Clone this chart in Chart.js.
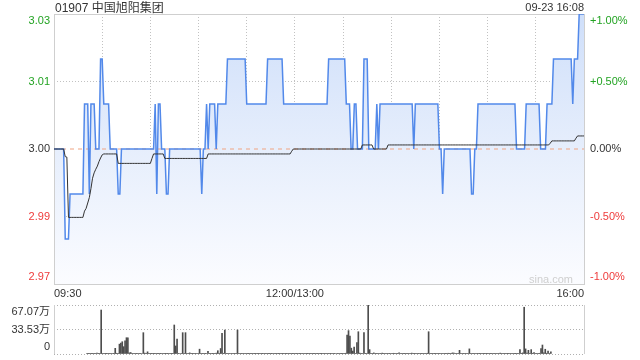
<!DOCTYPE html>
<html>
<head>
<meta charset="utf-8">
<script src="https://cdn.jsdelivr.net/npm/chart.js@4.4.0/dist/chart.umd.min.js"></script>
<style>
  body { margin: 0; width: 640px; height: 360px; background: #fff; position: relative; overflow: hidden;
         font-family: "Liberation Sans", "Noto Sans CJK SC", sans-serif; }
  #title { position: absolute; left: 55px; top: 0; font-size: 12px; line-height: 16px; color: #333; }
  #stamp { position: absolute; right: 56px; top: 0; font-size: 11px; line-height: 15px; color: #333; }
  #wm { position: absolute; right: 67px; top: 273px; font-size: 11px; line-height: 13px; color: #cfcfcf; }
  #priceCanvas { position: absolute; left: 0; top: 0; }
  #volCanvas { position: absolute; left: 0; top: 300px; }
</style>
</head>
<body>
<canvas id="priceCanvas" width="640" height="300"></canvas>
<canvas id="volCanvas" width="640" height="60"></canvas>
<div id="title">01907 中国旭阳集团</div>
<div id="stamp">09-23 16:08</div>
<div id="wm">sina.com</div>
<script>
// minute-by-minute data, 09:30 -> 16:00 (lunch break collapsed), 331 points
const prevClose = 3.00;

const price = [
  3.00,3.00,3.00,3.00,3.00,3.00,3.00,2.98,2.98,2.98, // 0
  2.99,2.99,2.99,2.99,2.99,2.99,2.99,2.99,2.99,3.01,
  3.01,3.01,2.99,3.01,3.01,3.01,3.00,3.00,3.00,3.02,
  3.02,3.01,3.01,3.01,3.01,3.00,3.00,3.00,3.00,3.00,
  2.99,2.99,3.00,3.00,3.00,3.00,3.00,3.00,3.00,3.00,
  3.00,3.00,3.00,3.00,3.00,3.00,3.00,3.00,3.00,3.00, // 50
  3.00,3.00,3.00,3.01,2.99,3.01,3.01,3.00,3.00,3.00,
  2.99,2.99,3.00,3.00,3.00,3.00,3.00,3.00,3.00,3.00,
  3.00,3.00,3.00,3.00,3.00,3.00,3.00,3.00,3.00,3.00,
  3.00,3.00,2.99,3.00,3.00,3.01,3.00,3.01,3.01,3.01,
  3.01,3.00,3.01,3.01,3.01,3.01,3.01,3.01,3.02,3.02, // 100
  3.02,3.02,3.02,3.02,3.02,3.02,3.02,3.02,3.02,3.02,
  3.01,3.01,3.01,3.01,3.01,3.01,3.01,3.01,3.01,3.01,
  3.01,3.01,3.01,3.02,3.02,3.02,3.02,3.02,3.02,3.02,
  3.02,3.02,3.02,3.01,3.01,3.01,3.01,3.01,3.01,3.01,
  3.01,3.01,3.01,3.01,3.01,3.01,3.01,3.01,3.01,3.01, // 150
  3.01,3.01,3.01,3.01,3.01,3.01,3.01,3.01,3.01,3.01,
  3.01,3.02,3.02,3.02,3.02,3.02,3.02,3.02,3.02,3.02,
  3.02,3.02,3.01,3.01,3.01,3.00,3.00,3.01,3.01,3.00,
  3.00,3.00,3.00,3.02,3.02,3.02,3.00,3.00,3.00,3.00,
  3.00,3.01,3.00,3.01,3.01,3.01,3.01,3.01,3.01,3.01, // 200
  3.01,3.01,3.01,3.01,3.01,3.01,3.01,3.01,3.01,3.01,
  3.01,3.01,3.01,3.01,3.00,3.01,3.01,3.01,3.01,3.01,
  3.01,3.01,3.01,3.01,3.01,3.01,3.01,3.01,3.01,3.01,
  3.00,3.00,2.99,3.00,3.00,3.00,3.00,3.00,3.00,3.00,
  3.00,3.00,3.00,3.00,3.00,3.00,3.00,3.00,3.00,3.00, // 250
  2.99,2.99,3.00,3.00,3.01,3.01,3.01,3.01,3.01,3.01,
  3.01,3.01,3.01,3.01,3.01,3.01,3.01,3.01,3.01,3.01,
  3.01,3.01,3.01,3.01,3.01,3.01,3.01,3.01,3.00,3.00,
  3.00,3.00,3.00,3.00,3.01,3.01,3.01,3.01,3.01,3.01,
  3.01,3.01,3.01,3.00,3.00,3.00,3.00,3.01,3.01,3.01, // 300
  3.01,3.02,3.02,3.02,3.02,3.02,3.02,3.02,3.02,3.02,
  3.02,3.02,3.02,3.01,3.02,3.02,3.02,3.03,3.03,3.03,
  3.03
];

const avgPrice = [
  3.0000,3.0000,3.0000,3.0000,3.0000,3.0000,3.0000,2.9983,2.9982,2.9848, // 0
  2.9848,2.9848,2.9848,2.9848,2.9848,2.9848,2.9848,2.9848,2.9848,2.9862,
  2.9868,2.9880,2.9892,2.9912,2.9935,2.9947,2.9955,2.9962,2.9972,2.9980,
  2.9987,2.9989,2.9989,2.9989,2.9989,2.9989,2.9989,2.9989,2.9989,2.9989,
  2.9968,2.9968,2.9968,2.9968,2.9968,2.9968,2.9968,2.9968,2.9968,2.9968,
  2.9968,2.9968,2.9968,2.9968,2.9968,2.9968,2.9968,2.9968,2.9968,2.9968, // 50
  2.9968,2.9979,2.9989,2.9989,2.9989,2.9989,2.9989,2.9989,2.9989,2.9979,
  2.9979,2.9979,2.9979,2.9979,2.9979,2.9979,2.9979,2.9979,2.9979,2.9979,
  2.9979,2.9979,2.9979,2.9979,2.9979,2.9979,2.9979,2.9979,2.9979,2.9979,
  2.9979,2.9979,2.9979,2.9979,2.9979,2.9979,2.9989,2.9989,2.9989,2.9989,
  2.9989,2.9989,2.9989,2.9989,2.9989,2.9989,2.9989,2.9989,2.9989,2.9989, // 100
  2.9989,2.9989,2.9989,2.9989,2.9989,2.9989,2.9989,2.9989,2.9989,2.9989,
  2.9989,2.9989,2.9989,2.9989,2.9989,2.9989,2.9989,2.9989,2.9989,2.9989,
  2.9989,2.9989,2.9989,2.9989,2.9989,2.9989,2.9989,2.9989,2.9989,2.9989,
  2.9989,2.9989,2.9989,2.9989,2.9989,2.9989,2.9989,2.9989,2.9995,3.0000,
  3.0000,3.0000,3.0000,3.0000,3.0000,3.0000,3.0000,3.0000,3.0000,3.0000, // 150
  3.0000,3.0000,3.0000,3.0000,3.0000,3.0000,3.0000,3.0000,3.0000,3.0000,
  3.0000,3.0000,3.0000,3.0000,3.0000,3.0000,3.0000,3.0000,3.0000,3.0000,
  3.0000,3.0000,3.0000,3.0000,3.0000,3.0000,3.0000,3.0000,3.0000,3.0000,
  3.0000,3.0000,3.0009,3.0009,3.0009,3.0009,3.0009,3.0009,3.0009,3.0000,
  3.0000,3.0000,3.0000,3.0000,3.0000,3.0000,3.0000,3.0000,3.0009,3.0009, // 200
  3.0009,3.0009,3.0009,3.0009,3.0009,3.0009,3.0009,3.0009,3.0009,3.0009,
  3.0009,3.0009,3.0009,3.0009,3.0009,3.0009,3.0009,3.0009,3.0009,3.0009,
  3.0009,3.0009,3.0009,3.0009,3.0009,3.0009,3.0009,3.0009,3.0009,3.0009,
  3.0009,3.0009,3.0009,3.0009,3.0009,3.0009,3.0009,3.0009,3.0009,3.0009,
  3.0009,3.0009,3.0009,3.0009,3.0009,3.0009,3.0009,3.0009,3.0009,3.0009, // 250
  3.0009,3.0009,3.0009,3.0009,3.0009,3.0009,3.0009,3.0009,3.0009,3.0009,
  3.0009,3.0009,3.0009,3.0009,3.0009,3.0009,3.0009,3.0009,3.0009,3.0009,
  3.0009,3.0009,3.0009,3.0009,3.0009,3.0009,3.0009,3.0009,3.0009,3.0009,
  3.0009,3.0009,3.0009,3.0009,3.0009,3.0009,3.0009,3.0009,3.0009,3.0009,
  3.0009,3.0009,3.0009,3.0009,3.0009,3.0009,3.0009,3.0009,3.0009,3.0013, // 300
  3.0018,3.0018,3.0018,3.0018,3.0018,3.0018,3.0018,3.0018,3.0018,3.0018,
  3.0018,3.0018,3.0018,3.0018,3.0018,3.0024,3.0029,3.0029,3.0029,3.0029,
  3.0029
];

// volume in 万 shares
const volume = [
  0.5,0.3,0.6,0.4,0.5,0.3,0.8,1.2,0.9,0.6, // 0
  60.2,0.8,0.5,0.4,0.3,0.6,0.5,0.4,0.7,0.9,
  7.8,1.0,0.8,13.5,15.0,16.8,10.0,18.0,22.3,22.3,
  1.5,2.0,0.8,0.6,0.5,0.4,0.6,0.3,0.5,0.7,
  29.2,1.2,0.8,3.0,0.6,0.5,0.4,0.5,0.3,0.6,
  0.4,0.5,0.3,0.6,0.4,0.5,0.3,0.4,0.6,0.5, // 50
  0.4,0.8,39.7,11.0,20.5,0.9,0.7,0.6,29.2,1.0,
  29.2,0.8,0.6,1.5,0.5,0.4,0.6,0.5,0.7,0.6,
  6.6,0.8,0.5,0.6,0.4,0.7,3.5,0.5,0.6,0.4,
  0.5,0.6,1.2,4.5,0.8,7.5,28.3,1.0,32.8,0.8,
  0.6,0.5,0.7,0.4,0.6,0.5,0.8,32.8,0.9,0.6, // 100
  0.5,0.4,0.6,0.3,0.5,0.4,0.6,0.5,0.3,0.4,
  0.5,0.6,0.4,0.3,0.5,0.4,0.6,0.5,0.4,0.3,
  0.5,0.4,0.6,0.8,0.5,0.4,0.3,0.5,0.6,0.4,
  0.3,0.5,0.4,0.6,0.5,0.3,0.4,0.5,0.6,0.4,
  0.3,0.4,0.5,0.3,0.6,0.4,0.5,0.3,0.4,0.5, // 150
  0.4,0.3,0.5,0.6,0.4,0.5,0.3,0.4,0.6,0.5,
  0.6,0.8,0.5,0.4,0.6,0.5,0.4,0.7,0.5,0.6,
  0.5,0.4,0.8,0.6,1.0,26.0,32.0,24.6,8.0,4.0,
  9.6,0.8,15.5,30.5,1.2,0.8,0.6,29.2,0.9,0.7,
  67.0,6.0,1.0,0.8,1.5,0.6,0.5,0.8,0.6,0.5, // 200
  1.2,0.5,0.6,0.8,0.5,0.4,0.7,0.6,1.0,0.5,
  0.6,0.5,1.5,0.6,0.8,0.5,0.4,0.6,0.5,0.8,
  0.6,1.2,0.5,0.4,0.6,0.8,0.5,0.6,0.4,0.5,
  0.8,0.6,1.0,30.5,0.8,0.5,0.6,0.4,0.5,0.6,
  0.5,0.4,0.6,0.8,0.5,0.4,0.6,1.0,0.5,0.8, // 250
  1.5,1.2,0.6,0.8,1.0,5.0,0.8,0.6,0.5,0.4,
  0.6,0.5,7.0,0.8,0.6,0.5,0.4,0.6,0.5,0.4,
  0.5,0.6,0.4,0.5,0.3,0.5,0.6,0.4,0.8,0.6,
  0.5,0.4,0.6,0.5,1.2,0.6,0.4,0.5,0.6,0.4,
  0.5,0.6,0.8,0.6,0.5,0.4,0.6,0.8,6.0,1.0, // 300
  1.5,64.0,7.0,1.2,5.0,0.8,6.0,1.0,2.0,0.8,
  0.6,0.8,1.0,7.5,12.3,1.5,6.5,1.0,4.0,0.8,
  3.0
];

const xTickMinutes = [0, 30, 60, 90, 120, 150, 180, 210, 240, 270, 300, 330];
const xTickLabels = ["09:30", "", "", "", "", "12:00/13:00", "", "", "", "", "", "16:00"];

const priceTicks = [2.97, 2.985, 3.00, 3.015, 3.03];
// edge labels are two-line arrays so they sit inside the frame
const priceTickLabels = [["2.97", ""], "2.99", "3.00", "3.01", ["", "3.03"]];
const pctTickLabels = [["-1.00%", ""], "-0.50%", "0.00%", "+0.50%", ["", "+1.00%"]];

const volTicks = [0, 33.53, 67.07];
const volTickLabels = [["0", ""], "33.53万", ["", "67.07万"]];

const minutes = price.map((_, i) => i);

Chart.defaults.font.family = '"Liberation Sans", "Noto Sans CJK SC", sans-serif';
Chart.defaults.font.size = 11;

const GREEN = "#22a322";
const RED = "#ee3b3b";
const DOT = "#c2c2c2";
const VOLDOT = "#b0b0b0";
const FRAME = "#cfcfcf";

function tickColor(v) {
  if (Math.abs(v - prevClose) < 1e-6) return "#333";
  return v > prevClose ? GREEN : RED;
}

// fixed axis size, no overflow padding from the edge labels
function fixSize(w, h) {
  return (s) => {
    if (w != null) s.width = w;
    if (h != null) s.height = h;
    s.paddingTop = 0;
    s.paddingBottom = 0;
    s.paddingLeft = 0;
    s.paddingRight = 0;
  };
}

const frameAll = {
  id: "frameAll",
  beforeDatasetsDraw(chart) {
    const { ctx, chartArea: a } = chart;
    ctx.save();
    ctx.strokeStyle = FRAME;
    ctx.lineWidth = 1;
    ctx.strokeRect(a.left + 0.5, a.top + 0.5, a.right - a.left, a.bottom - a.top);
    ctx.restore();
  },
};

const frameSides = {
  id: "frameSides",
  beforeDatasetsDraw(chart) {
    const { ctx, chartArea: a } = chart;
    ctx.save();
    ctx.strokeStyle = FRAME;
    ctx.lineWidth = 1;
    ctx.beginPath();
    ctx.moveTo(a.left + 0.5, a.top);
    ctx.lineTo(a.left + 0.5, a.bottom);
    ctx.moveTo(a.right + 0.5, a.top);
    ctx.lineTo(a.right + 0.5, a.bottom);
    ctx.stroke();
    ctx.restore();
  },
};

new Chart(document.getElementById("priceCanvas"), {
  type: "line",
  data: {
    labels: minutes,
    datasets: [
      {
        label: "avg",
        data: avgPrice,
        borderColor: "#333",
        borderWidth: 1,
        pointRadius: 0,
        fill: false,
        order: 0,
      },
      {
        label: "price",
        data: price,
        borderColor: "#5289ea",
        borderWidth: 1.5,
        pointRadius: 0,
        fill: "start",
        backgroundColor: (c) => {
          const a = c.chart.chartArea;
          if (!a) return "rgba(0,0,0,0)";
          const g = c.chart.ctx.createLinearGradient(0, a.top, 0, a.bottom);
          g.addColorStop(0, "#cfdffa");
          g.addColorStop(0.5, "#e6eefc");
          g.addColorStop(1, "#fbfcff");
          return g;
        },
        order: 1,
      },
      {
        label: "prev close",
        data: [
          { x: 0, y: prevClose },
          { x: 330, y: prevClose },
        ],
        borderColor: "#f0a482",
        borderWidth: 1,
        borderDash: [4, 4],
        pointRadius: 0,
        fill: false,
        order: 2,
      },
    ],
  },
  options: {
    responsive: false,
    animation: false,
    layout: { padding: { top: 14, left: 0, right: 0, bottom: 0 } },
    plugins: {
      legend: { display: false },
      tooltip: { enabled: false },
      filler: { drawTime: "beforeDatasetsDraw" },
    },
    scales: {
      x: {
        type: "linear",
        min: 0,
        max: 330,
        afterBuildTicks: (s) => {
          s.ticks = xTickMinutes.map((v) => ({ value: v }));
        },
        afterFit: fixSize(null, 16),
        ticks: {
          autoSkip: false,
          maxRotation: 0,
          align: "inner",
          padding: 3,
          color: "#333",
          callback: (v) => xTickLabels[xTickMinutes.indexOf(v)],
        },
        grid: {
          drawTicks: false,
          color: (c) => (c.tick && (c.tick.value === 0 || c.tick.value === 330) ? "rgba(0,0,0,0)" : DOT),
        },
        border: { display: false, dash: [1, 2] },
      },
      y: {
        position: "left",
        min: 2.97,
        max: 3.03,
        afterBuildTicks: (s) => {
          s.ticks = priceTicks.map((v) => ({ value: v }));
        },
        afterFit: fixSize(54, null),
        ticks: {
          autoSkip: false,
          padding: 4,
          color: (c) => tickColor(c.tick.value),
          callback: (v, i) => priceTickLabels[i],
        },
        grid: {
          drawTicks: false,
          color: (c) => (c.tick && (c.tick.value === 2.985 || c.tick.value === 3.015) ? DOT : "rgba(0,0,0,0)"),
        },
        border: { display: false, dash: [1, 2] },
      },
      pct: {
        position: "right",
        min: 2.97,
        max: 3.03,
        afterBuildTicks: (s) => {
          s.ticks = priceTicks.map((v) => ({ value: v }));
        },
        afterFit: fixSize(56, null),
        ticks: {
          autoSkip: false,
          padding: 6,
          color: (c) => tickColor(c.tick.value),
          callback: (v, i) => pctTickLabels[i],
        },
        grid: { drawOnChartArea: false, drawTicks: false },
        border: { display: false },
      },
    },
  },
  plugins: [frameAll],
});

new Chart(document.getElementById("volCanvas"), {
  type: "bar",
  data: {
    labels: minutes,
    datasets: [
      {
        label: "volume",
        data: volume,
        backgroundColor: "#4d4d4d",
        borderWidth: 0,
        barThickness: 1,
      },
    ],
  },
  options: {
    responsive: false,
    animation: false,
    layout: { padding: { top: 5, bottom: 6, left: 0, right: 56 } },
    plugins: {
      legend: { display: false },
      tooltip: { enabled: false },
    },
    scales: {
      x: { type: "linear", min: 0, max: 330, display: false },
      y: {
        min: 0,
        max: 67.07,
        afterBuildTicks: (s) => {
          s.ticks = volTicks.map((v) => ({ value: v }));
        },
        afterFit: fixSize(54, null),
        ticks: {
          autoSkip: false,
          padding: 4,
          color: "#333",
          callback: (v, i) => volTickLabels[i],
        },
        grid: { drawTicks: false, color: VOLDOT },
        border: { display: false, dash: [1, 2] },
      },
    },
  },
  plugins: [frameSides],
});
</script>
</body>
</html>
